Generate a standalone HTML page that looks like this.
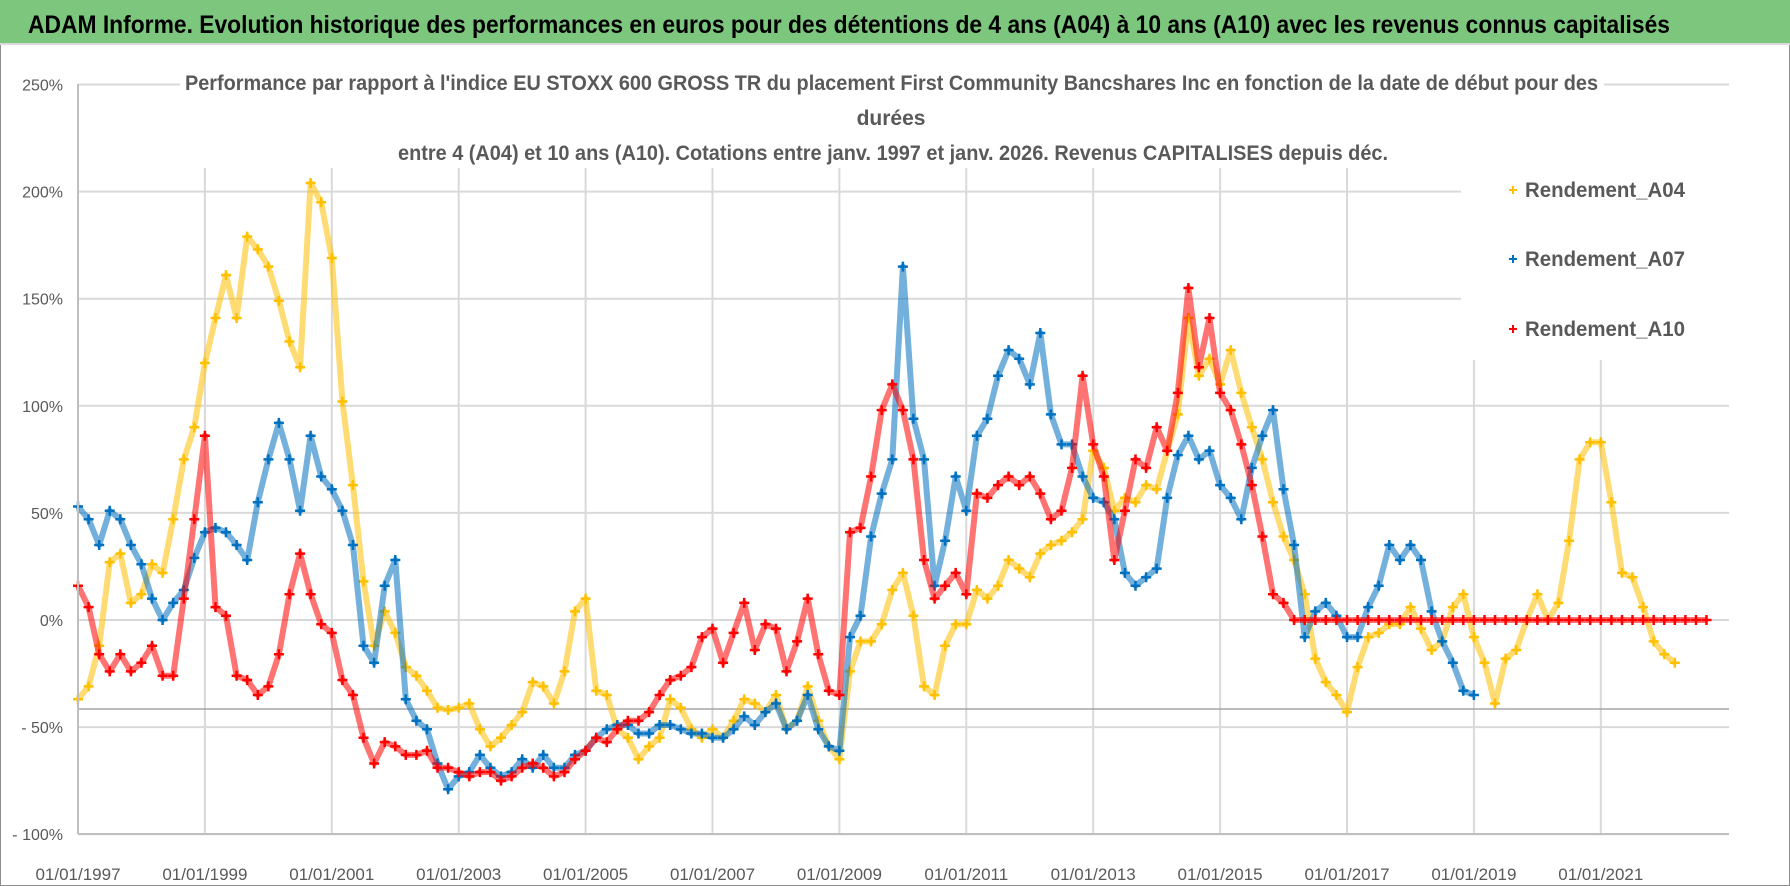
<!DOCTYPE html>
<html><head><meta charset="utf-8">
<style>
html,body{margin:0;padding:0;background:#fff;}
svg{display:block;font-family:"Liberation Sans Narrow","Liberation Sans",sans-serif;}
</style></head>
<body>
<svg id="chart" width="1790" height="886" viewBox="0 0 1790 886" xmlns="http://www.w3.org/2000/svg">
<rect x="0" y="0" width="1790" height="886" fill="#fff" stroke="#8c8c8c" stroke-width="2"/>
<rect x="0" y="0" width="1790" height="43" fill="#7dc67e"/>
<text x="28" y="33" font-size="25" font-weight="bold" fill="#000" textLength="1642" lengthAdjust="spacingAndGlyphs">ADAM Informe. Evolution historique des performances en euros pour des détentions de 4 ans (A04) à 10 ans (A10) avec les revenus connus capitalisés</text>
<line x1="0" y1="44" x2="1790" y2="44" stroke="#d9d9d9" stroke-width="2"/>
<g id="grid"></g>
<rect x="180" y="60" width="1424" height="108" fill="#fff"/>
<rect x="1461" y="150" width="268" height="210" fill="#fff"/>
<g id="marks"></g>
<g id="axes"></g>
<g font-size="21" font-weight="bold" fill="#595959">
<text x="185" y="90" textLength="1413" lengthAdjust="spacingAndGlyphs">Performance par rapport à l'indice EU STOXX 600 GROSS TR  du placement First Community Bancshares Inc en fonction de la date de début pour des</text>
<text x="891" y="125" text-anchor="middle">durées</text>
<text x="398" y="160" textLength="990" lengthAdjust="spacingAndGlyphs">entre 4 (A04) et 10 ans (A10).  Cotations entre janv. 1997 et janv. 2026. Revenus CAPITALISES depuis déc.</text>
</g>
<g id="legend" font-size="21" font-weight="bold" fill="#595959"></g>
</svg>
<script>
const t0 = 0, step = 1/6;
const tickYears = ["01/01/1997","01/01/1999","01/01/2001","01/01/2003","01/01/2005","01/01/2007","01/01/2009","01/01/2011","01/01/2013","01/01/2015","01/01/2017","01/01/2019","01/01/2021"];
const yTicks = [250,200,150,100,50,0,-50,-100];
const yTickLabels = ["250%","200%","150%","100%","50%","0%","- 50%","- 100%"];
const seriesNames = ["Rendement_A04","Rendement_A07","Rendement_A10"];
const a04 = [-37,-31,-12,27,31,8,12,26,22,47,75,90,120,141,161,141,179,173,165,149,130,118,204,195,169,102,63,18,-12,4,-6,-22,-26,-33,-41,-42,-41,-39,-51,-59,-55,-49,-43,-29,-31,-39,-24,4,10,-33,-35,-51,-55,-65,-59,-55,-37,-41,-51,-55,-51,-55,-47,-37,-39,-43,-35,-51,-47,-31,-47,-59,-65,-24,-10,-10,-2,14,22,2,-31,-35,-12,-2,-2,14,10,16,28,24,20,31,35,37,41,47,79,71,51,57,55,63,61,79,96,141,114,122,110,126,106,90,75,55,39,28,12,-18,-29,-35,-43,-22,-8,-6,-2,-2,6,-4,-14,-10,6,12,-8,-20,-39,-18,-14,0,12,0,8,37,75,83,83,55,22,20,6,-10,-16,-20];
const a07 = [53,47,35,51,47,35,26,10,0,8,14,29,41,43,41,35,28,55,75,92,75,51,86,67,61,51,35,-12,-20,16,28,-37,-47,-51,-67,-79,-73,-71,-63,-69,-73,-71,-65,-69,-63,-69,-69,-63,-61,-55,-51,-49,-49,-53,-53,-49,-49,-51,-53,-53,-55,-55,-51,-45,-49,-43,-39,-51,-47,-35,-51,-59,-61,-8,2,39,59,75,165,94,75,16,37,67,51,86,94,114,126,122,110,134,96,82,82,67,57,55,47,22,16,20,24,57,77,86,75,79,63,57,47,71,86,98,61,35,-8,4,8,2,-8,-8,6,16,35,28,35,28,4,-10,-20,-33,-35];
const a10 = [16,6,-16,-24,-16,-24,-20,-12,-26,-26,10,47,86,6,2,-26,-28,-35,-31,-16,12,31,12,-2,-6,-28,-35,-55,-67,-57,-59,-63,-63,-61,-69,-69,-71,-73,-71,-71,-75,-73,-69,-67,-69,-73,-71,-65,-61,-55,-57,-51,-47,-47,-43,-35,-28,-26,-22,-8,-4,-20,-6,8,-14,-2,-4,-24,-10,10,-16,-33,-35,41,43,67,98,110,98,75,28,10,16,22,12,59,57,63,67,63,67,59,47,51,71,114,82,67,28,51,75,71,90,79,106,155,118,141,106,98,82,63,39,12,8,0,0,0,0,0,0,0,0,0,0,0,0,0,0,0,0,0,0,0,0,0,0,0,0,0,0,0,0,0,0,0,0,0,0,0,0,0,0,0,0];
const colors = ["#ffc000","#0070c0","#ff0000"];

const NS = "http://www.w3.org/2000/svg";
const X0 = 78, X1 = 1729, PXYEAR = 63.45, Y0 = 620, PXPCT = 2.142;
const xs = t => X0 + t * PXYEAR;
const ys = v => Y0 - v * PXPCT;
function mk(tag, attrs, parent){const e=document.createElementNS(NS,tag);for(const k in attrs)e.setAttribute(k,attrs[k]);parent.appendChild(e);return e;}

const grid = document.getElementById('grid');
yTicks.forEach((v,i)=>{
  const l = mk('line',{x1:X0,x2:X1,y1:ys(v),y2:ys(v),stroke:'#d9d9d9','stroke-width':2},grid);
  
  
});
tickYears.forEach((lab,i)=>{
  const x = xs(i*2);
  const l = mk('line',{x1:x,x2:x,y1:84,y2:834,stroke:'#d9d9d9','stroke-width':2},grid);
  
  
});
const dl = mk('line',{x1:X0,x2:X1,y1:709,y2:709,stroke:'#a6a6a6','stroke-width':1.5},grid);



const axes = document.getElementById('axes');
const la = mk('line',{x1:X0,x2:X0,y1:84,y2:834,stroke:'#bfbfbf','stroke-width':2},axes);


const ba = mk('line',{x1:X0,x2:X1,y1:834,y2:834,stroke:'#bfbfbf','stroke-width':2},axes);


yTicks.forEach((v,i)=>{
  const t = mk('text',{x:63,y:ys(v)+6,'text-anchor':'end','font-size':16,fill:'#595959'},axes);
  t.textContent = yTickLabels[i];
  
  
});
tickYears.forEach((lab,i)=>{
  const t = mk('text',{x:xs(i*2),y:880,'text-anchor':'middle','font-size':17,fill:'#595959'},axes);
  t.textContent = lab;
  
  
});

const marks = document.getElementById('marks');
[a04,a07,a10].forEach((arr,si)=>{
  const g = mk('g',{},marks);
  
  
  let pts = arr.map((v,i)=>xs(t0+i*step).toFixed(1)+','+ys(v).toFixed(1)).join(' ');
  const pl = mk('polyline',{points:pts,fill:'none',stroke:colors[si],'stroke-width':6,'stroke-opacity':0.55,'stroke-linejoin':'round'},g);
  
  
  let d='';
  arr.forEach((v,i)=>{
    const x=xs(t0+i*step), y=ys(v);
    d+=`M${(x-5).toFixed(1)} ${y.toFixed(1)}h10M${x.toFixed(1)} ${(y-5).toFixed(1)}v10`;
  });
  const p = mk('path',{d:d,stroke:colors[si],'stroke-width':2.5,fill:'none'},g);
  
  
});

const legend = document.getElementById('legend');
const legY = [197,266,336];
seriesNames.forEach((n,i)=>{
  const g = mk('g',{},legend);
  
  
  const p = mk('path',{d:`M1509 ${legY[i]-7}h8M1513 ${legY[i]-11}v8`,stroke:colors[i],'stroke-width':2},g);
  
  
  const t = mk('text',{x:1525,y:legY[i],textLength:160,lengthAdjust:'spacingAndGlyphs'},g);
  t.textContent = n;
  
  
});
</script>
</body></html>
